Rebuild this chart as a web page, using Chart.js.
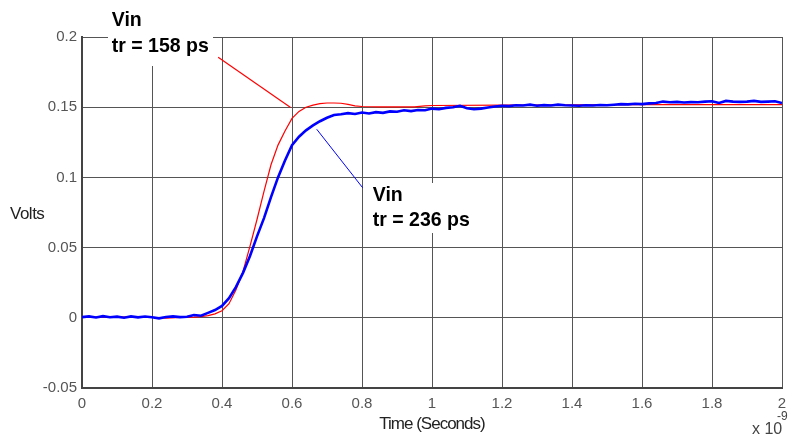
<!DOCTYPE html>
<html>
<head>
<meta charset="utf-8">
<script src="https://cdn.jsdelivr.net/npm/chart.js@4.4.1/dist/chart.umd.min.js"></script>
<style>
  html, body { margin: 0; padding: 0; background: #fff; }
  #wrap { width: 790px; height: 438px; }
</style>
</head>
<body>
<div id="wrap"><canvas id="scope" width="790" height="438"></canvas></div>
<script>
// time in units of 1e-9 s
var xTicks = [0, 0.2, 0.4, 0.6, 0.8, 1, 1.2, 1.4, 1.6, 1.8, 2];
var yTicks = [-0.05, 0, 0.05, 0.1, 0.15, 0.2];

// blue trace, sampled every 0.02 ns
var blueStep = 0.02;
var blueVolts = [
  0.0005, 0.0010, 0.0002, 0.0012, 0.0004, 0.0008, 0.0000, 0.0010, 0.0003, 0.0009,
  0.0004, -0.0004, 0.0006, 0.0010, 0.0005, 0.0008, 0.0020, 0.0015, 0.0035, 0.0055,
  0.0085, 0.0140, 0.0220, 0.0320, 0.0440, 0.0580, 0.0710, 0.0860, 0.1000, 0.1120,
  0.1230, 0.1290, 0.1335, 0.1370, 0.1400, 0.1425, 0.1445, 0.1450, 0.1458, 0.1452,
  0.1462, 0.1455, 0.1465, 0.1460, 0.1470, 0.1468, 0.1478, 0.1472, 0.1480, 0.1478,
  0.1490, 0.1485, 0.1495, 0.1500, 0.1510, 0.1492, 0.1485, 0.1490, 0.1498, 0.1505,
  0.1510, 0.1508, 0.1514, 0.1512, 0.1518, 0.1510, 0.1515, 0.1512, 0.1518, 0.1514,
  0.1512, 0.1510, 0.1514, 0.1512, 0.1516, 0.1514, 0.1518, 0.1522, 0.1520, 0.1525,
  0.1522, 0.1527, 0.1530, 0.1540, 0.1535, 0.1538, 0.1534, 0.1536, 0.1535, 0.1540,
  0.1542, 0.1530, 0.1545, 0.1540, 0.1538, 0.1540, 0.1545, 0.1538, 0.1540, 0.1542,
  0.1530
];

// red trace
var redTime = [0, 0.10, 0.20, 0.24, 0.28, 0.32, 0.34, 0.36, 0.38, 0.40, 0.42, 0.44, 0.46, 0.48,
  0.50, 0.52, 0.54, 0.56, 0.58, 0.60, 0.62, 0.64, 0.66, 0.68, 0.70, 0.72, 0.74, 0.76,
  0.78, 0.80, 0.85, 0.95, 0.98, 1.00, 1.20, 1.40, 1.60, 1.80, 2.00];
var redVolts = [0.0005, 0.0006, 0.0004, -0.0002, 0.0003, 0.0005, 0.0008, 0.0015, 0.0028, 0.0050,
  0.0100, 0.0200, 0.0330, 0.0510, 0.0700, 0.0900, 0.1090, 0.1230, 0.1330, 0.1420,
  0.1470, 0.1500, 0.1515, 0.1525, 0.1530, 0.1530, 0.1528, 0.1520, 0.1510, 0.1505,
  0.1502, 0.1502, 0.1510, 0.1512, 0.1515, 0.1516, 0.1518, 0.1518, 0.1518];

var tickFont = "'Liberation Sans', Arial, sans-serif";

var bluePts = blueVolts.map(function (v, i) { return { x: i * blueStep, y: v }; });
var redPts = redVolts.map(function (v, i) { return { x: redTime[i], y: v }; });

function fmt(v) { return String(Number(v.toFixed(3))); }

// narrow bold text: squeeze horizontally
function narrowText(ctx, txt, px, py, sx) {
  ctx.save();
  ctx.translate(px, py);
  ctx.scale(sx, 1);
  ctx.fillText(txt, 0, 0);
  ctx.restore();
}

var notes = {
  id: "notes",
  afterDatasetsDraw: function (chart) {
    var ctx = chart.ctx, x = chart.scales.x, y = chart.scales.y;
    ctx.save();
    // leader lines
    ctx.lineWidth = 1.2;
    ctx.strokeStyle = "#ff0000";
    ctx.beginPath();
    ctx.moveTo(x.getPixelForValue(0.389), y.getPixelForValue(0.1855));
    ctx.lineTo(x.getPixelForValue(0.596), y.getPixelForValue(0.1498));
    ctx.stroke();
    ctx.strokeStyle = "#0000ff";
    ctx.lineWidth = 1;
    ctx.beginPath();
    ctx.moveTo(x.getPixelForValue(0.6706), y.getPixelForValue(0.1343));
    ctx.lineTo(x.getPixelForValue(0.802), y.getPixelForValue(0.0926));
    ctx.stroke();

    // label backgrounds
    ctx.fillStyle = "#fff";
    ctx.fillRect(108, 0, 105, 66);
    ctx.fillRect(364, 183, 108, 50);

    ctx.fillStyle = "#000";
    ctx.font = "bold 21px " + tickFont;
    ctx.textBaseline = "alphabetic";
    ctx.textAlign = "left";
    var lx = x.getPixelForValue(0.085);
    narrowText(ctx, "Vin", lx, y.getPixelForValue(0.2081), 0.93);
    narrowText(ctx, "tr = 158 ps", lx, y.getPixelForValue(0.1891), 0.93);
    lx = x.getPixelForValue(0.8306);
    narrowText(ctx, "Vin", lx, y.getPixelForValue(0.0831), 0.93);
    narrowText(ctx, "tr = 236 ps", lx, y.getPixelForValue(0.0652), 0.93);

    // axis titles
    ctx.fillStyle = "#222";
    ctx.font = "17px " + tickFont;
    ctx.letterSpacing = "-0.5px";
    ctx.textBaseline = "middle";
    ctx.textAlign = "left";
    ctx.fillText("Volts", 10, 214);
    ctx.letterSpacing = "-1px";
    ctx.textAlign = "center";
    ctx.fillText("Time (Seconds)", 432, 424);
    ctx.letterSpacing = "0px";
    ctx.fillStyle = "#444";
    ctx.textAlign = "left";
    ctx.font = "16px " + tickFont;
    ctx.fillText("x 10", 752, 430);
    ctx.font = "12px " + tickFont;
    ctx.fillText("-9", 777, 417);
    ctx.restore();
  }
};

var ctx1 = document.getElementById("scope");

var chart1 = new Chart(ctx1, {
  type: "line",
  data: {
    datasets: [
      {
        label: "Vin tr = 236 ps",
        data: bluePts,
        borderColor: "#0000ff",
        borderWidth: 2.6,
        pointRadius: 0,
        tension: 0,
        order: 0
      },
      {
        label: "Vin tr = 158 ps",
        data: redPts,
        borderColor: "#ff0000",
        borderWidth: 1.2,
        pointRadius: 0,
        tension: 0,
        order: 1
      }
    ]
  },
  options: {
    responsive: false,
    animation: false,
    layout: { padding: { left: 0, top: 37, right: 8, bottom: 0 } },
    plugins: {
      legend: { display: false },
      tooltip: { enabled: false },
      title: { display: false }
    },
    scales: {
      x: {
        type: "linear",
        min: 0,
        max: 2,
        afterBuildTicks: function (s) { s.ticks = xTicks.map(function (v) { return { value: v }; }); },
        afterFit: function (s) { s.height = 50; s.paddingRight = 0; s.paddingLeft = 0; },
        grid: { color: "#555", lineWidth: 1, drawTicks: false },
        border: { color: "#444", width: 2 },
        ticks: {
          padding: 7,
          color: "#555",
          font: { family: tickFont, size: 15 },
          maxRotation: 0,
          callback: function (v) { return fmt(v); }
        }
      },
      y: {
        type: "linear",
        min: -0.05,
        max: 0.2,
        afterBuildTicks: function (s) { s.ticks = yTicks.map(function (v) { return { value: v }; }); },
        afterFit: function (s) { s.width = 82; s.paddingTop = 0; s.paddingBottom = 0; },
        grid: { color: "#555", lineWidth: 1, drawTicks: false },
        border: { color: "#444", width: 2 },
        ticks: {
          padding: 5,
          color: "#555",
          font: { family: tickFont, size: 15 },
          callback: function (v) { return fmt(v); }
        }
      }
    }
  },
  plugins: [notes]
});
</script>
</body>
</html>
